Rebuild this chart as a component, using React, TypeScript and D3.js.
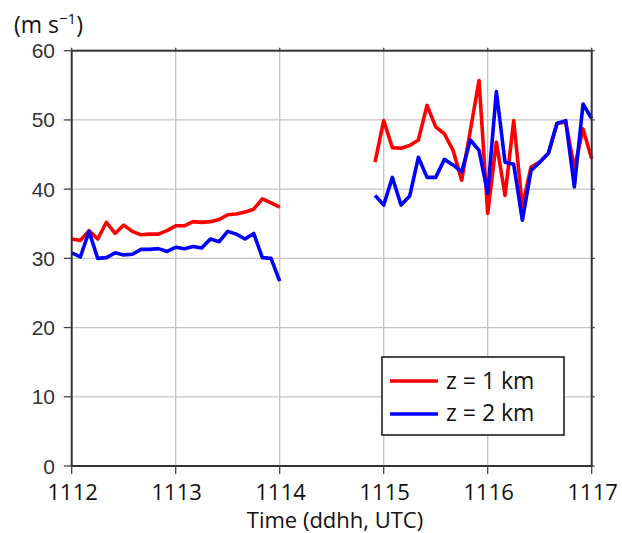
import * as d3 from "d3";

// 5-minute samples, time in hours (ddhh read as a continuous hour axis)
const STEP = 1 / 12;
const seg1Start = 1112;
const seg2Start = 1114 + 11 / 12;

const red1 = [32.8, 32.6, 34.0, 32.8, 35.2, 33.6, 34.8, 33.9, 33.4, 33.5, 33.5, 34.0, 34.7,
  34.7, 35.3, 35.2, 35.3, 35.6, 36.3, 36.4, 36.7, 37.1, 38.6, 38.0, 37.4];
const blue1 = [30.8, 30.2, 33.9, 30.0, 30.1, 30.8, 30.5, 30.6, 31.3, 31.3, 31.4, 31.0, 31.6,
  31.4, 31.7, 31.5, 32.8, 32.4, 33.9, 33.5, 32.8, 33.6, 30.1, 30.0, 26.7];
const red2 = [43.9, 49.9, 46.0, 45.9, 46.3, 47.1, 52.1, 49.0, 48.0, 45.6, 41.3, 48.5, 55.7,
  36.5, 46.8, 39.1, 49.9, 37.5, 43.2, 43.9, 45.2, 49.5, 49.7, 43.0, 48.7, 44.4];
const blue2 = [39.1, 37.7, 41.7, 37.7, 39.0, 44.6, 41.7, 41.7, 44.3, 43.5, 42.5, 47.1, 45.6,
  39.4, 54.1, 43.9, 43.6, 35.5, 42.7, 43.9, 45.2, 49.5, 49.9, 40.3, 52.3, 50.2];

const xTicks = [1112, 1113, 1114, 1115, 1116, 1117];
const yTicks = [0, 10, 20, 30, 40, 50, 60];

const W = 622;
const H = 533;
const left = 71.7, right = 591.7, top = 50.7, bottom = 466;

export default function App() {
  const x = d3.scaleLinear().domain([1112, 1117]).range([left, right]);
  const y = d3.scaleLinear().domain([0, 60]).range([bottom, top]);

  const line = (start: number) =>
    d3.line<number>()
      .x((_, i) => x(start + i * STEP))
      .y(v => y(v));

  const series = [
    { start: seg1Start, vals: red1, color: "#ff0000" },
    { start: seg2Start, vals: red2, color: "#ff0000" },
    { start: seg1Start, vals: blue1, color: "#0000ff" },
    { start: seg2Start, vals: blue2, color: "#0000ff" },
  ];

  const calibri = "'Open Sans', 'Noto Sans', sans-serif";

  return (
    <svg width={W} height={H} style={{ position: "absolute", left: 0, top: 0, background: "#fff" }}>
      {/* grid */}
      {xTicks.slice(1, -1).map(t => (
        <line key={"gx" + t} x1={x(t)} x2={x(t)} y1={top} y2={bottom} stroke="#c4c4c4" strokeWidth={1.3} />
      ))}
      {yTicks.slice(1, -1).map(t => (
        <line key={"gy" + t} x1={left} x2={right} y1={y(t)} y2={y(t)} stroke="#c4c4c4" strokeWidth={1.3} />
      ))}

      {/* data */}
      {series.map((s, i) => (
        <path key={i} d={line(s.start)(s.vals) || ""} fill="none" stroke={s.color}
          strokeWidth={3.6} strokeLinejoin="round" />
      ))}

      {/* frame */}
      <rect x={left} y={top} width={right - left} height={bottom - top} fill="none" stroke="#333" strokeWidth={2} />

      {/* ticks */}
      {yTicks.map(t => (
        <g key={"ty" + t}>
          <line x1={left - 8} x2={left} y1={y(t)} y2={y(t)} stroke="#444" strokeWidth={1.3} />
          <line x1={right} x2={right + 3} y1={y(t)} y2={y(t)} stroke="#444" strokeWidth={1.3} />
          <text x={55} y={y(t)} dy="0.36em" textAnchor="end" fontFamily="'Liberation Sans', Arial, sans-serif"
            fontSize={21} fill="#333">{t}</text>
        </g>
      ))}
      {xTicks.map(t => (
        <g key={"tx" + t}>
          <line x1={x(t)} x2={x(t)} y1={bottom} y2={bottom + 8} stroke="#444" strokeWidth={1.3} />
          <line x1={x(t)} x2={x(t)} y1={top - 3} y2={top} stroke="#444" strokeWidth={1.3} />
          <text x={x(t) + 1} y={500} textAnchor="middle" fontFamily={calibri} fontSize={22} fill="#111">{t}</text>
        </g>
      ))}

      {/* axis titles */}
      <text x={335} y={528} textAnchor="middle" fontFamily={calibri} fontSize={22} fill="#111">
        Time (ddhh, UTC)
      </text>
      <text x={14} y={33} fontFamily={calibri} fontSize={23} fill="#111">
        (m s<tspan dy={-9} fontSize={15}>−1</tspan><tspan dy={9}>)</tspan>
      </text>

      {/* legend */}
      <rect x={382} y={357} width={182} height={78} fill="#fff" stroke="#111" strokeWidth={1.5} />
      <line x1={390} x2={438} y1={381} y2={381} stroke="#ff0000" strokeWidth={3.6} />
      <line x1={390} x2={438} y1={414} y2={414} stroke="#0000ff" strokeWidth={3.6} />
      <text x={446} y={389} fontFamily={calibri} fontSize={23} fill="#111">z = 1 km</text>
      <text x={446} y={421} fontFamily={calibri} fontSize={23} fill="#111">z = 2 km</text>
    </svg>
  );
}
